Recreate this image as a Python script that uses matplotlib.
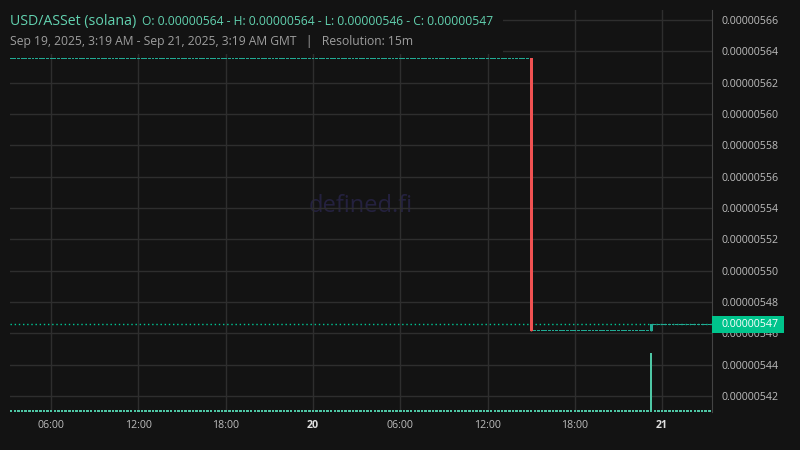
import numpy as np
import pandas as pd
import matplotlib
matplotlib.use('Agg')
import matplotlib.pyplot as plt
import matplotlib.dates as mdates
import matplotlib.transforms as mtransforms
from matplotlib.patches import Rectangle

plt.rcParams['font.family'] = ['Open Sans', 'DejaVu Sans']

# ---- data ----
bar_start = '2025-09-19 03:15'
n_bars = 193                      # 15m bars up to Sep 21 03:15
drop_bar = 143                    # Sep 20 15:00, the red candle
bounce_bar = 176                  # Sep 20 23:15, small green candle + volume spike
level_before = 5.6355e-6
level_after = 5.4615e-6
level_last = 5.4657e-6

opens = np.concatenate([np.full(drop_bar + 1, level_before),
                        np.full(bounce_bar - drop_bar, level_after),
                        np.full(n_bars - bounce_bar - 1, level_last)])
closes = np.concatenate([np.full(drop_bar, level_before),
                         np.full(bounce_bar - drop_bar + 1, level_after),
                         np.full(n_bars - bounce_bar - 1, level_last)])
closes[bounce_bar] = level_last
highs = np.maximum(opens, closes)
lows = np.minimum(opens, closes)

vol_base = 40.0
vol_spike = 1450.0
volumes = np.full(n_bars, vol_base)
volumes[bounce_bar] = vol_spike

y_ticks = np.arange(542, 567, 2) * 1e-8
x_tick_times = ['2025-09-19 06:00', '2025-09-19 12:00', '2025-09-19 18:00',
                '2025-09-20 00:00', '2025-09-20 06:00', '2025-09-20 12:00',
                '2025-09-20 18:00', '2025-09-21 00:00']
x_tick_labels = ['06:00', '12:00', '18:00', '20', '06:00', '12:00', '18:00', '21']

title = 'USD/ASSet (solana)'
ohlc_text = 'O: 0.00000564 - H: 0.00000564 - L: 0.00000546 - C: 0.00000547'
subtitle = 'Sep 19, 2025, 3:19 AM - Sep 21, 2025, 3:19 AM GMT   |   Resolution: 15m'

# ---- style ----
bg = '#131313'
grid_c = '#2e2e2e'
up_c = '#22ab94'
down_c = '#f05252'
vol_c = '#4fc7a5'
tick_c = '#bdbdbd'
head_c = '#62d2b0'
fs = 8.7
tick_fs = 7.7

times = pd.date_range(bar_start, periods=n_bars, freq='15min')
x = mdates.date2num(times)
bar_w = 1 / 96

fig = plt.figure(figsize=(8, 4.5), dpi=100, facecolor=bg)
ax = fig.add_axes([10 / 800, 1 - 412 / 450, 702 / 800, 402 / 450])
ax.set_facecolor(bg)

ymin, ymax = 5.4098e-6, 5.6663e-6
ax.set_ylim(ymin, ymax)
ax.set_xlim(mdates.date2num(pd.Timestamp('2025-09-19 03:10')),
            mdates.date2num(pd.Timestamp('2025-09-21 03:26')))
px = (ymax - ymin) / 402  # one pixel in price units

# volume overlay (twin axis, made first so the price axis keeps its right ticks)
ax2 = ax.twinx()
ax2.set_ylim(0, vol_spike * 402 / 59)
ax2.bar(x, volumes, width=bar_w * 0.7, color=vol_c, linewidth=0)
ax2.set_yticks([])
for s in ax2.spines.values():
    s.set_visible(False)

# candles
colors = np.where(closes >= opens, up_c, down_c)
body_h = np.maximum(highs - lows, px)
body_b = np.where(highs - lows < px, lows - px / 2, lows)
ax.bar(x, body_h, bottom=body_b, width=bar_w * 0.8, color=colors, linewidth=0, zorder=3)
ax.vlines(x, lows, highs, colors=colors, linewidth=1, zorder=3)

# current price line + label
ax.axhline(level_last, color='#00c896', linestyle=(0, (1, 2)), linewidth=1, zorder=2)
blend = mtransforms.blended_transform_factory(ax.transAxes, ax.transData)
ax.add_patch(Rectangle((1.0, level_last - 8.5 * px), 72 / 702, 17 * px, transform=blend,
                       facecolor='#00c48c', edgecolor='none', clip_on=False, zorder=10))
ax.text(1.0 + 10 / 702, level_last, f'{level_last:.8f}', transform=blend, ha='left', va='center',
        color='white', fontsize=tick_fs, zorder=11, clip_on=False)

# watermark
ax.text(0.5, 0.512, 'defined.fi', transform=ax.transAxes, ha='center', va='center',
        fontsize=17, color='#24213f', zorder=0.2)

# axes styling
ax.set_axisbelow(True)
ax.grid(True, color=grid_c, linewidth=1)
ax.yaxis.tick_right()
ax.set_yticks(y_ticks)
ax.set_yticklabels([f'{v:.8f}' for v in y_ticks])
ax.set_xticks(mdates.date2num(pd.to_datetime(x_tick_times)))
ax.set_xticklabels(x_tick_labels)
ax.tick_params(axis='both', length=0, labelsize=tick_fs, colors=tick_c)
ax.tick_params(axis='y', pad=7)
ax.tick_params(axis='x', pad=6)
for lbl in ax.get_xticklabels():
    if ':' not in lbl.get_text():
        lbl.set_fontweight('bold')
        lbl.set_color('#e0e0e0')
for side in ['left', 'top', 'bottom']:
    ax.spines[side].set_visible(False)
ax.spines['right'].set_color('#444444')

# header box covering the grid
fig.patches.append(Rectangle((0, 1 - 54 / 450), 503 / 800, 54 / 450, transform=fig.transFigure,
                             facecolor=bg, edgecolor='none', zorder=5))
t1 = fig.text(10 / 800, 1 - 25 / 450, title, color=head_c, fontsize=10.2, va='baseline', zorder=6)
fig.canvas.draw()
bb = t1.get_window_extent()
fig.text((bb.x1 + 6) / 800, 1 - 25 / 450, ohlc_text, color=head_c, fontsize=fs, va='baseline', zorder=6)
fig.text(10 / 800, 1 - 45 / 450, subtitle, color='#9e9e9e', fontsize=fs, va='baseline', zorder=6)

fig.savefig('out.png', dpi=100, facecolor=bg)
